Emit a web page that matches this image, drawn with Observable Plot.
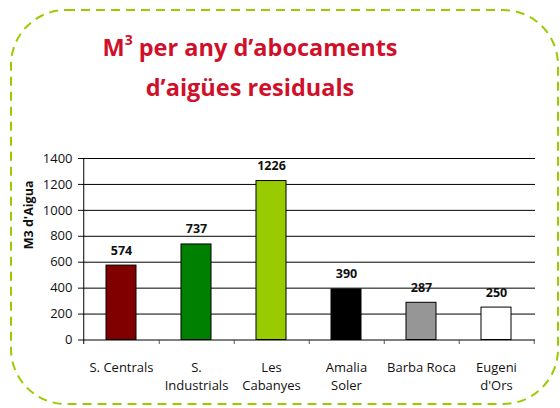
<!DOCTYPE html>
<html><head><meta charset="utf-8">
<script src="https://cdn.jsdelivr.net/npm/d3@7"></script>
<script src="https://cdn.jsdelivr.net/npm/@observablehq/plot@0.6"></script>
<style>
body{margin:0;background:#fff;}
#wrap{position:relative;width:560px;height:408px;overflow:hidden;font-family:"Open Sans",sans-serif;background:#fff;}
#frame{position:absolute;left:0;top:0;}
#title{position:absolute;left:0;top:29px;width:500px;text-align:center;color:#d0102b;font-weight:bold;font-size:23.5px;line-height:36px;font-family:"Open Sans",sans-serif;}
#title .sup{font-size:14px;position:relative;top:-11px;}
#chart{position:absolute;left:0;top:140px;}
</style>
</head><body>
<div id="wrap">
  <svg id="frame" width="560" height="408"><rect x="11" y="10" width="547" height="394" rx="55" ry="55" fill="none" stroke="#99cc00" stroke-width="2" stroke-dasharray="9 6"/></svg>
  <div id="title">M<span class="sup">3</span> per any d’abocaments<br>d’aigües residuals</div>
  <div id="chart"></div>
</div>
<script>
const categories = ["S. Centrals","S. Industrials","Les Cabanyes","Amalia Soler","Barba Roca","Eugeni d'Ors"];
const tickLabels = ["S. Centrals","S.\nIndustrials","Les\nCabanyes","Amalia\nSoler","Barba Roca","Eugeni\nd'Ors"];
const values = [574, 737, 1226, 390, 287, 250];
const colors = ["#800000","#008000","#99cc00","#000000","#969696","#ffffff"];
const yTicks = [0,200,400,600,800,1000,1200,1400];
const yLabel = "M3 d'Aigua";

const data = categories.map((c,i)=>({cat:c, value:values[i], color:colors[i], label:tickLabels[i]}));

const W = 560, H = 268, mL = 82, mR = 25, mT = 18, mB = 68.5;
const step = (W - mL - mR) / categories.length;

const chart = Plot.plot({
  width: W, height: H,
  marginLeft: mL, marginRight: mR, marginTop: mT, marginBottom: mB,
  style: {fontFamily: "Open Sans", fontSize: "13px", color: "#111", background: "transparent", overflow: "visible"},
  x: {domain: categories, paddingInner: 0.6, paddingOuter: 0.3, axis: null},
  y: {domain: [0, 1400], ticks: yTicks, tickSize: 4, tickPadding: 6, label: null, tickFormat: d => String(d)},
  marks: [
    Plot.ruleY(yTicks, {stroke: "#000", strokeWidth: 1}),
    Plot.ruleX(categories.slice(0,1), {x: d => d, dx: -step/2, y1: -35, y2: 1400, stroke: "#000"}),
    Plot.ruleX(categories, {x: d => d, dx: step/2, y1: -35, y2: 0, stroke: "#555"}),
    Plot.barY(data, {x: "cat", y: "value", fill: "color", stroke: "#000", strokeWidth: 1}),
    Plot.text(data, {x: "cat", y: "value", text: d => String(d.value), dy: -15, fontWeight: "bold", fontSize: 12.5, fill: "#111"}),
    Plot.text(data, {x: "cat", text: "label", frameAnchor: "bottom", lineAnchor: "top", dy: 19, lineHeight: 1.4, fontSize: 13, fill: "#111"}),
    Plot.text([yLabel], {text: d => d, frameAnchor: "left", rotate: -90, dx: -54, fontWeight: "bold", fontSize: 12.5, fill: "#111"})
  ]
});
document.getElementById("chart").appendChild(chart);
</script>
</body></html>
